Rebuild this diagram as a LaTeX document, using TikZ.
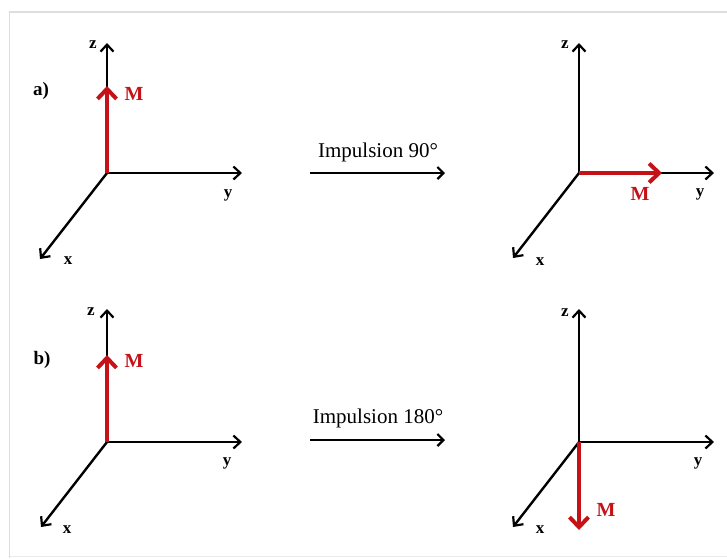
\documentclass[tikz,border=0pt]{standalone}
\usepackage{fontspec}
\setmainfont{Liberation Serif}
\usetikzlibrary{arrows.meta}
\definecolor{mred}{RGB}{196,18,24}
\definecolor{frameg}{RGB}{222,222,222}
\tikzset{
  axis/.style={line width=2.4pt, -{Straight Barb[length=7pt,width=13pt,line width=2.2pt]}},
  magn/.style={mred, line width=4.6pt, -{Straight Barb[length=10pt,width=19pt,line width=4pt]}},
  pulse/.style={line width=2.4pt, -{Straight Barb[length=6pt,width=12pt,line width=2.2pt]}},
  axlab/.style={font=\fontsize{17}{17}\selectfont\bfseries, inner sep=0pt},
  mlab/.style={mred, font=\fontsize{20}{20}\selectfont\bfseries, inner sep=0pt},
  panlab/.style={font=\fontsize{19}{19}\selectfont\bfseries, inner sep=0pt},
  pulselab/.style={font=\fontsize{21}{21}\selectfont, inner sep=0pt},
}
\begin{document}
\begin{tikzpicture}[x=1pt,y=-1pt]
\useasboundingbox (0,0) rectangle (727,558);
\fill[white] (0,0) rectangle (727,558);
% frame
\draw[frameg, line width=1.5pt] (9.5,558) -- (9.5,12) -- (727,12);
\draw[frameg!60, line width=1pt] (9.5,556) -- (727,556);

% ---- panel a, left
\coordinate (oA) at (107,173);
\coordinate (zA) at (107,43);
\coordinate (yA) at (242,173);
\coordinate (xA) at (40,259);
\coordinate (mA) at (107,86);
\draw[axis] (oA) -- (zA);
\draw[axis] (oA) -- (yA);
\draw[axis] (oA) -- (xA);
\draw[magn] (oA) -- (mA);
\node[axlab] (zlA) at (93,45) {z};
\node[axlab] (ylA) at (228,195) {y};
\node[axlab] (xlA) at (68,261) {x};
\node[mlab] (MA) at (134,94) {M};
\node[panlab] (pa) at (41,91) {a)};

% ---- pulse a
\coordinate (pa1) at (310,173);
\coordinate (pa2) at (445,173);
\draw[pulse] (pa1) -- (pa2);
\node[pulselab] (ta) at (378,152) {Impulsion 90°};

% ---- panel a, right
\coordinate (oB) at (579,173);
\coordinate (zB) at (579,43);
\coordinate (yB) at (714,173);
\coordinate (xB) at (513,258);
\coordinate (mB) at (662,173);
\draw[axis] (oB) -- (zB);
\draw[axis] (oB) -- (yB);
\draw[axis] (oB) -- (xB);
\draw[magn] (oB) -- (mB);
\node[axlab] (zlB) at (565,45) {z};
\node[axlab] (ylB) at (700,194) {y};
\node[axlab] (xlB) at (540,262) {x};
\node[mlab] (MB) at (640,194) {M};

% ---- panel b, left
\coordinate (oC) at (107,442);
\coordinate (zC) at (107,309);
\coordinate (yC) at (242,442);
\coordinate (xC) at (41,527);
\coordinate (mC) at (107,355);
\draw[axis] (oC) -- (zC);
\draw[axis] (oC) -- (yC);
\draw[axis] (oC) -- (xC);
\draw[magn] (oC) -- (mC);
\node[axlab] (zlC) at (91,312) {z};
\node[axlab] (ylC) at (227,463) {y};
\node[axlab] (xlC) at (67,530) {x};
\node[mlab] (MC) at (134,361) {M};
\node[panlab] (pb) at (42,360) {b)};

% ---- pulse b
\coordinate (pb1) at (310,440);
\coordinate (pb2) at (445,440);
\draw[pulse] (pb1) -- (pb2);
\node[pulselab] (tb) at (378,418) {Impulsion 180°};

% ---- panel b, right
\coordinate (oD) at (579,442);
\coordinate (zD) at (579,309);
\coordinate (yD) at (714,442);
\coordinate (xD) at (513,527);
\coordinate (mD) at (579,530);
\draw[axis] (oD) -- (zD);
\draw[axis] (oD) -- (yD);
\draw[axis] (oD) -- (xD);
\draw[magn] (oD) -- (mD);
\node[axlab] (zlD) at (565,313) {z};
\node[axlab] (ylD) at (698,463) {y};
\node[axlab] (xlD) at (540,530) {x};
\node[mlab] (MD) at (606,510) {M};
\end{tikzpicture}
\end{document}
